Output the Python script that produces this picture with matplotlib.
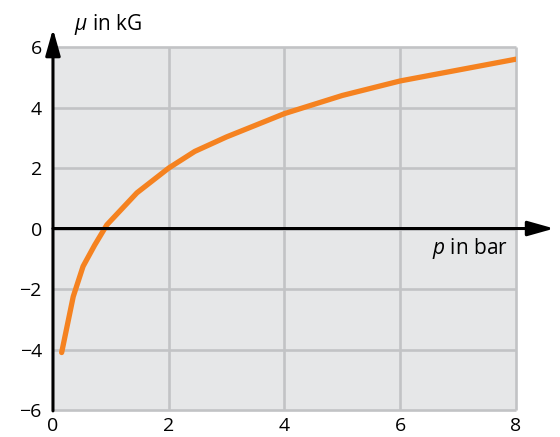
import matplotlib
matplotlib.use("Agg")
import matplotlib.pyplot as plt

plt.rcParams['font.family'] = ['Open Sans', 'DejaVu Sans']
plt.rcParams['mathtext.fontset'] = 'custom'
plt.rcParams['mathtext.it'] = 'Open Sans:italic'
plt.rcParams['mathtext.rm'] = 'Open Sans'

# Chemical potential versus pressure
pressure = [0.15, 0.35, 0.52, 0.72, 0.93, 1.45, 2.0, 2.45, 3.0, 4.0, 5.0, 6.0, 8.0]
potential = [-4.1, -2.25, -1.25, -0.55, 0.12, 1.18, 2.0, 2.55, 3.03, 3.8, 4.4, 4.88, 5.6]

x_ticks = [0, 2, 4, 6, 8]
y_ticks = [-6, -4, -2, 0, 2, 4, 6]
y_tick_labels = ['\u22126', '\u22124', '\u22122', '0', '2', '4', '6']

fig = plt.figure(figsize=(5.6, 4.37), dpi=100)
ax = fig.add_axes([0.0946, 0.0618, 0.8268, 0.8305])
ax.set_facecolor('#e6e7e8')
ax.set_xlim(0, 8)
ax.set_ylim(-6, 6)

grid_color = '#c2c3c5'
for xv in x_ticks[1:]:
    ax.plot([xv, xv], [-6, 6], color=grid_color, lw=1.9, zorder=1, clip_on=False,
            solid_capstyle='butt')
for yv in y_ticks:
    ax.plot([0, 8], [yv, yv], color=grid_color, lw=1.9, zorder=1, clip_on=False,
            solid_capstyle='butt')

for s in ax.spines.values():
    s.set_visible(False)

ax.plot(pressure, potential, color='#f58220', lw=3.8, zorder=3,
        solid_capstyle='round', solid_joinstyle='round')

ax.set_xticks(x_ticks)
ax.set_yticks(y_ticks)
ax.set_yticklabels(y_tick_labels)
ax.tick_params(length=0, labelsize=14, pad=8, colors='black')
ax.tick_params(axis='x', pad=5)

# Coordinate axes with arrow heads
ax.annotate('', xy=(0, 6.6), xytext=(0, -6.03), xycoords='data',
            arrowprops=dict(arrowstyle='-|>,head_length=1.6,head_width=0.45',
                            color='black', lw=2.2, shrinkA=0, shrinkB=0),
            annotation_clip=False, zorder=5)
ax.annotate('', xy=(8.66, 0), xytext=(0, 0), xycoords='data',
            arrowprops=dict(arrowstyle='-|>,head_length=1.6,head_width=0.45',
                            color='black', lw=2.2, shrinkA=0, shrinkB=0),
            annotation_clip=False, zorder=5)

ax.text(0.36, 6.75, r'$\mu$ in kG', fontsize=15, ha='left', va='center')
ax.text(7.86, -0.65, r'$p$ in bar', fontsize=15, ha='right', va='center')

fig.savefig('out.png', dpi=100)
